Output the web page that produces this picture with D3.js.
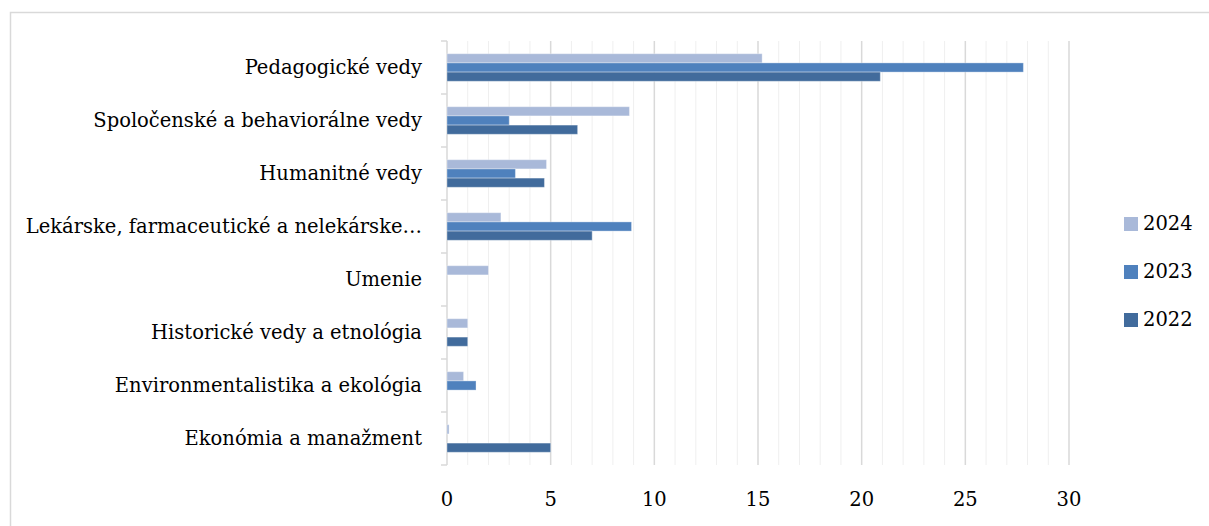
<!DOCTYPE html>
<html>
<head>
<meta charset="utf-8">
<script src="https://cdn.jsdelivr.net/npm/d3@7"></script>
<style>
  html, body { margin: 0; padding: 0; background: #fff; }
  svg { display: block; }
</style>
</head>
<body>
<div id="chart"></div>
<script>
const categories = [
  "Pedagogické vedy",
  "Spoločenské a behaviorálne vedy",
  "Humanitné vedy",
  "Lekárske, farmaceutické a nelekárske…",
  "Umenie",
  "Historické vedy a etnológia",
  "Environmentalistika a ekológia",
  "Ekonómia a manažment"
];
const seriesNames = ["2024", "2023", "2022"];
const values2024 = [15.2, 8.8, 4.8, 2.6, 2.0, 1.0, 0.8, 0.1];
const values2023 = [27.8, 3.0, 3.3, 8.9, 0, 0, 1.4, 0];
const values2022 = [20.9, 6.3, 4.7, 7.0, 0, 1.0, 0, 5.0];
const xTicks = [0, 5, 10, 15, 20, 25, 30];
const colors = { "2024": "#a9b9d9", "2023": "#4f81bd", "2022": "#416b9c" };

const seriesValues = { "2024": values2024, "2023": values2023, "2022": values2022 };

const width = 1209, height = 526;
const plot = { left: 447, right: 1069, top: 41, bottom: 465 };
const font = "'DejaVu Serif', 'Liberation Serif', serif";
const fontSize = 19.5;

const svg = d3.select("#chart").append("svg")
  .attr("width", width)
  .attr("height", height);

// outer chart border
svg.append("rect")
  .attr("x", 10.5).attr("y", 12.5)
  .attr("width", 1220).attr("height", 540)
  .attr("fill", "none")
  .attr("stroke", "#d9d9d9")
  .attr("stroke-width", 1.5);

const x = d3.scaleLinear().domain([0, 30]).range([plot.left, plot.right]);
const y = d3.scaleBand().domain(categories).range([plot.top, plot.bottom])
  .paddingInner(0.48).paddingOuter(0.24);
const inner = d3.scaleBand().domain(seriesNames).range([0, y.bandwidth()]);

// minor gridlines (every 1)
svg.append("g").selectAll("line")
  .data(d3.range(1, 31).filter(v => v % 5 !== 0))
  .join("line")
  .attr("x1", d => x(d)).attr("x2", d => x(d))
  .attr("y1", plot.top).attr("y2", plot.bottom)
  .attr("stroke", "#efefef").attr("stroke-width", 1);

// major gridlines
svg.append("g").selectAll("line")
  .data(xTicks.slice(1))
  .join("line")
  .attr("x1", d => x(d)).attr("x2", d => x(d))
  .attr("y1", plot.top).attr("y2", plot.bottom)
  .attr("stroke", "#d9d9d9").attr("stroke-width", 1.5);

// vertical category axis with ticks at band boundaries
const axisG = svg.append("g");
axisG.append("line")
  .attr("x1", plot.left).attr("x2", plot.left)
  .attr("y1", plot.top).attr("y2", plot.bottom)
  .attr("stroke", "#d9d9d9").attr("stroke-width", 1.5);
const step = (plot.bottom - plot.top) / categories.length;
axisG.selectAll("line.tick")
  .data(d3.range(categories.length + 1))
  .join("line")
  .attr("class", "tick")
  .attr("x1", plot.left - 6).attr("x2", plot.left)
  .attr("y1", i => plot.top + i * step).attr("y2", i => plot.top + i * step)
  .attr("stroke", "#d9d9d9").attr("stroke-width", 1.5);

// bars
seriesNames.forEach(s => {
  svg.append("g").selectAll("rect")
    .data(categories.map((c, i) => ({ c, v: seriesValues[s][i] })).filter(d => d.v > 0))
    .join("rect")
    .attr("x", x(0))
    .attr("y", d => y(d.c) + inner(s))
    .attr("width", d => x(d.v) - x(0))
    .attr("height", inner.bandwidth())
    .attr("fill", colors[s])
    .attr("stroke", "#ffffff")
    .attr("stroke-opacity", 0.35)
    .attr("stroke-width", 1);
});

// category labels
svg.append("g").selectAll("text")
  .data(categories)
  .join("text")
  .attr("x", 422)
  .attr("y", d => y(d) + y.bandwidth() / 2 + 1)
  .attr("text-anchor", "end")
  .attr("dominant-baseline", "middle")
  .attr("font-family", font)
  .attr("font-size", fontSize)
  .attr("fill", "#000")
  .text(d => d);

// x axis labels
svg.append("g").selectAll("text")
  .data(xTicks)
  .join("text")
  .attr("x", d => x(d))
  .attr("y", 506)
  .attr("text-anchor", "middle")
  .attr("font-family", font)
  .attr("font-size", fontSize)
  .attr("fill", "#000")
  .text(d => d);

// legend
const legend = svg.append("g");
seriesNames.forEach((s, i) => {
  const ly = 224 + i * 48;
  legend.append("rect")
    .attr("x", 1124).attr("y", ly - 7)
    .attr("width", 14).attr("height", 14)
    .attr("fill", colors[s]);
  legend.append("text")
    .attr("x", 1143).attr("y", ly)
    .attr("dominant-baseline", "middle")
    .attr("font-family", font)
    .attr("font-size", fontSize)
    .attr("fill", "#000")
    .text(s);
});
</script>
</body>
</html>
